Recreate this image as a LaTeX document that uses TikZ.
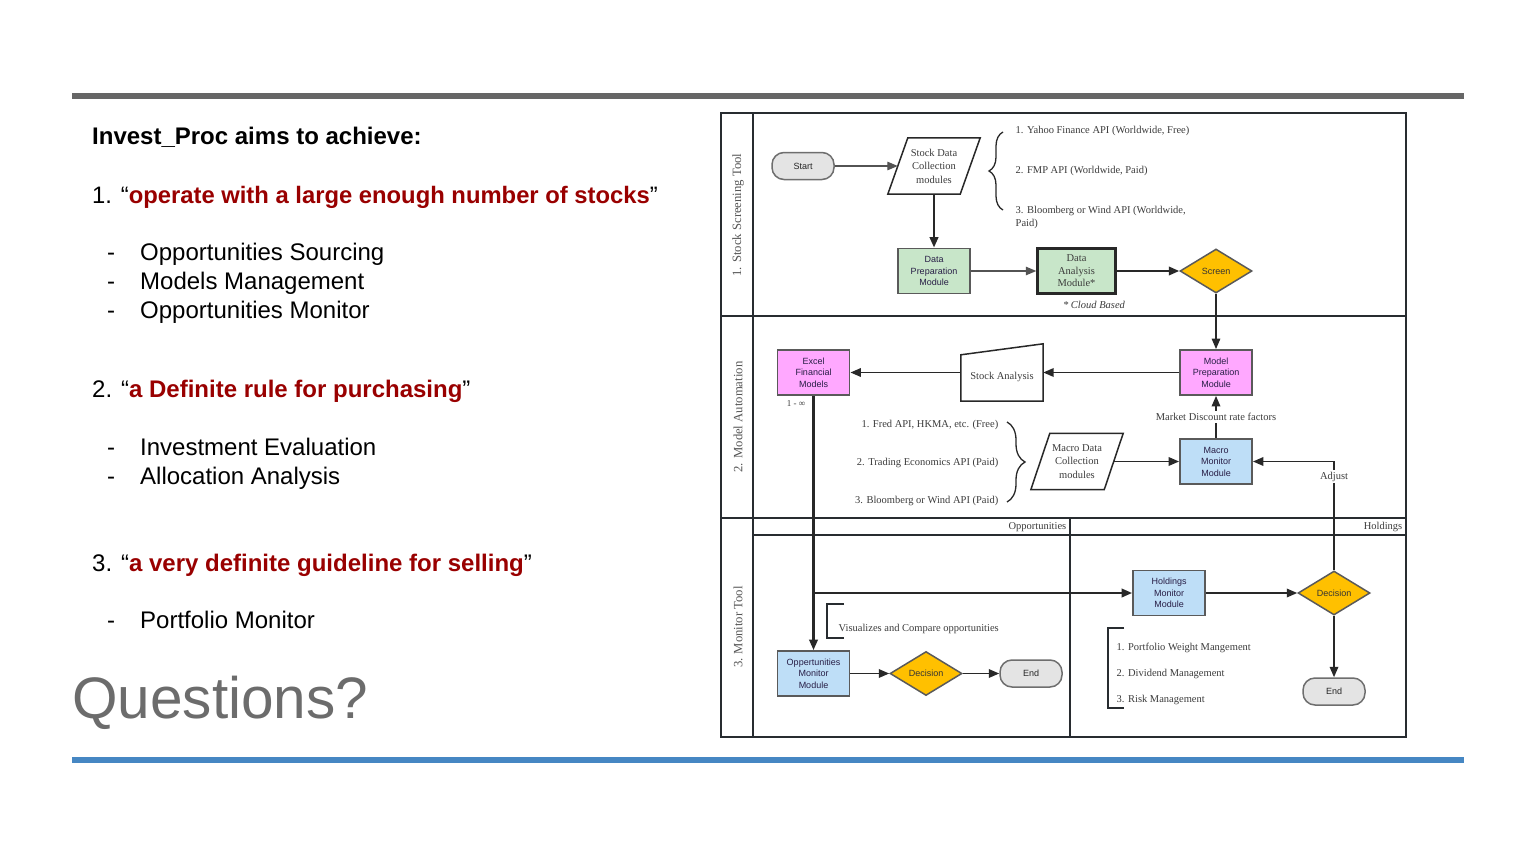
\documentclass[tikz,border=0pt]{standalone}
\usepackage{fontspec}
\setmainfont{Liberation Serif}
\setsansfont{Liberation Sans}
\usetikzlibrary{arrows.meta,shapes.geometric,decorations.pathreplacing,calc}

\definecolor{topbar}{RGB}{102,102,102}
\definecolor{botbar}{RGB}{70,135,195}
\definecolor{aimred}{RGB}{153,0,0}
\definecolor{qgray}{RGB}{108,108,108}
\definecolor{framec}{RGB}{40,44,48}
\definecolor{linec}{RGB}{40,40,40}
\definecolor{txtc}{RGB}{60,60,60}
\definecolor{boxline}{RGB}{90,90,90}
\definecolor{gfill}{RGB}{200,230,201}
\definecolor{pfill}{RGB}{255,168,255}
\definecolor{bfill}{RGB}{190,222,247}
\definecolor{afill}{RGB}{255,192,0}
\definecolor{pillfill}{RGB}{228,228,228}
\definecolor{pillline}{RGB}{110,110,110}
\definecolor{lanec}{RGB}{85,85,85}
\definecolor{boxtxt}{RGB}{40,30,70}

\newcommand\setfs[2]{\fontsize{#1}{#2}\selectfont}

\begin{document}
\begin{tikzpicture}[x=1pt,y=-1pt,
  >={Triangle[length=10.5pt,width=8.5pt]},
  body/.style={font=\sffamily\setfs{24}{28}, anchor=base west, inner sep=0pt},
  srf/.style={font=\setfs{10.5}{13}, text=txtc, inner sep=0.5pt},
  lane/.style={font=\setfs{12.7}{14}, text=lanec, rotate=90, inner sep=0pt},
  frame/.style={draw=framec, line width=2.2pt},
  conn/.style={draw=linec, line width=1.8pt},
  boxbase/.style={draw=boxline, line width=1.8pt, minimum width=72pt, minimum height=45pt,
    align=center, inner sep=1pt, font=\sffamily\setfs{9}{11.5}, text=boxtxt},
  gbox/.style={boxbase, fill=gfill},
  pbox/.style={boxbase, fill=pfill},
  bbox/.style={boxbase, fill=bfill},
  dia/.style={diamond, draw=boxline, line width=1.5pt, fill=afill, minimum width=72pt,
    minimum height=44pt, inner sep=0pt, font=\sffamily\setfs{9}{11}, text=black!80},
  pill/.style={draw=pillline, line width=1.5pt, fill=pillfill, rounded corners=12pt,
    minimum width=62pt, minimum height=27pt, inner sep=0pt, font=\sffamily\setfs{9}{11}, text=black!85},
  holder/.style={inner sep=0pt, align=center, font=\setfs{10.5}{13.5}, text=txtc},
  brc/.style={draw=linec, line width=1.3pt, decorate},
  bkt/.style={draw=framec, line width=2.2pt}
]
\useasboundingbox[fill=white] (0,0) rectangle (1536,864);

% slide rules
\draw[topbar, line width=6pt] (72,96) -- (1464,96);
\draw[botbar, line width=6pt] (72,759.5) -- (1464,759.5);

% left column text
\node[body, font=\sffamily\bfseries\setfs{24}{28}] (title) at (92,145) {Invest\_Proc aims to achieve:};
\node[body, font=\sffamily\setfs{23.8}{28}] (aim1) at (92,203) {1. “\textcolor{aimred}{\bfseries operate with a large enough number of stocks}”};
\node[body] (d11) at (107,260) {-};
\node[body] (b11) at (140,260) {Opportunities Sourcing};
\node[body] (d12) at (107,289) {-};
\node[body] (b12) at (140,289) {Models Management};
\node[body] (d13) at (107,318) {-};
\node[body] (b13) at (140,318) {Opportunities Monitor};
\node[body] (aim2) at (92,397) {2. “\textcolor{aimred}{\bfseries a Definite rule for purchasing}”};
\node[body] (d21) at (107,455) {-};
\node[body] (b21) at (140,455) {Investment Evaluation};
\node[body] (d22) at (107,484) {-};
\node[body] (b22) at (140,484) {Allocation Analysis};
\node[body] (aim3) at (92,571) {3. “\textcolor{aimred}{\bfseries a very definite guideline for selling}”};
\node[body] (d31) at (107,628) {-};
\node[body] (b31) at (140,628) {Portfolio Monitor};
\node[body, font=\sffamily\setfs{58.5}{64}, text=qgray] (quest) at (72,718) {Questions?};

% swimlane frame
\draw[frame] (721,113) rectangle (1406,737);
\draw[frame] (753,113) -- (753,737);
\draw[frame] (721,316) -- (1406,316);
\draw[frame] (721,518) -- (1406,518);
\draw[frame] (753,535) -- (1406,535);
\draw[frame] (1070,518) -- (1070,737);

\node[lane] (lane1) at (738,215) {1. Stock Screening Tool};
\node[lane] (lane2) at (738,417) {2. Model Automation};
\node[lane] (lane3) at (738,627) {3. Monitor Tool};
\node[srf, anchor=east] (opphead) at (1067,527) {Opportunities};
\node[srf, anchor=east] (holdhead) at (1403,527) {Holdings};

% lane 1: stock screening
\node[pill] (start) at (803,166) {Start};
\node[holder, minimum width=72pt, minimum height=56pt] (sdc) at (934,166) {Stock Data\\Collection\\modules};
\draw[draw=linec, line width=1.5pt] ($(sdc.north west)+(10,0)$) -- ($(sdc.north east)+(10,0)$)
  -- ($(sdc.south east)+(-10,0)$) -- ($(sdc.south west)+(-10,0)$) -- cycle;
\node[gbox] (dprep) at (934,271) {Data\\Preparation\\Module};
\node[gbox, draw=linec, line width=2.4pt, minimum width=78pt, font=\setfs{10.5}{12.5}, text=txtc] (dana) at (1076.5,271) {Data\\Analysis\\Module*};
\node[dia] (screen) at (1216,271) {Screen};
\node[srf, font=\itshape\setfs{10.5}{13}] (cloud) at (1094,305) {* Cloud Based};

\node[srf, anchor=west] (src1) at (1015,131) {1. Yahoo Finance API (Worldwide, Free)};
\node[srf, anchor=west] (src2) at (1015,171) {2. FMP API (Worldwide, Paid)};
\node[srf, anchor=north west, align=left] (src3) at (1015,206) {3. Bloomberg or Wind API (Worldwide,\\Paid)};
\draw[brc, decoration={brace, amplitude=14pt}] (1003,210) -- (1003,132);

% lane 2: model automation
\node[pbox] (mprep) at (1216,372.5) {Model\\Preparation\\Module};
\node[inner sep=0pt, minimum width=82pt, minimum height=57pt] (sa) at (1002,372.5) {};
\draw[draw=linec, line width=1.5pt] ($(sa.north west)+(0,11)$) -- (sa.north east) -- (sa.south east)
  -- (sa.south west) -- cycle;
\node[srf] (satext) at ($(sa.center)+(0,4)$) {Stock Analysis};
\node[pbox] (excel) at (813.5,372.5) {Excel\\Financial\\Models};
\node[srf, font=\setfs{9}{11}] (inf) at (796,404) {1 - ∞};

\node[srf, anchor=east] (mac1) at (999,425) {1. Fred API, HKMA, etc. (Free)};
\node[srf, anchor=east] (mac2) at (999,463) {2. Trading Economics API (Paid)};
\node[srf, anchor=east] (mac3) at (999,501) {3. Bloomberg or Wind API (Paid)};
\draw[brc, decoration={brace, amplitude=18pt}] (1007,422) -- (1007,502);

\node[holder, minimum width=73pt, minimum height=56pt] (mdc) at (1077,461.5) {Macro Data\\Collection\\modules};
\draw[draw=linec, line width=1.5pt] ($(mdc.north west)+(9.5,0)$) -- ($(mdc.north east)+(9.5,0)$)
  -- ($(mdc.south east)+(-9.5,0)$) -- ($(mdc.south west)+(-9.5,0)$) -- cycle;
\node[bbox] (mmon) at (1216,461.5) {Macro\\Monitor\\Module};

% lane 1 connectors
\draw[conn, line width=1.3pt, draw=linec!80, ->] (start) -- (sdc);
\draw[conn, line width=2.4pt, ->] (sdc) -- (dprep);
\draw[conn, line width=1.2pt, draw=linec!80, ->] (dprep) -- (dana);
\draw[conn, line width=2.2pt, ->] (dana) -- (screen);
\draw[conn, line width=1.4pt, ->] (screen) -- (mprep);

% lane 2 connectors
\draw[conn, ->] (mprep) -- (sa);
\draw[conn, ->] (sa) -- (excel);
\draw[conn, ->] (mdc) -- (mmon);
\draw[conn, ->] (mmon) -- node[srf, fill=white, inner sep=2pt] (mdr) {Market Discount rate factors} (mprep);

% lane 3: monitor tool
\node[bbox] (hmon) at (1169,593) {Holdings\\Monitor\\Module};
\node[dia] (hdec) at (1334,593) {Decision};
\node[pill] (hend) at (1334,691.5) {End};
\node[bbox] (omon) at (813.5,673.5) {Oppertunities\\Monitor\\Module};
\node[dia] (odec) at (926,673.5) {Decision};
\node[pill] (oend) at (1031,673.5) {End};

\draw[bkt] (844,604) -- (827,604) -- (827,638) -- (844,638);
\node[srf, anchor=west] (vis) at (838,629) {Visualizes and Compare opportunities};
\draw[bkt] (1124,628) -- (1108,628) -- (1108,708) -- (1124,708);
\node[srf, anchor=west] (pm1) at (1116,648) {1. Portfolio Weight Mangement};
\node[srf, anchor=west] (pm2) at (1116,674) {2. Dividend Management};
\node[srf, anchor=west] (pm3) at (1116,700) {3. Risk Management};

\draw[conn, line width=2.2pt, ->] (excel.south) -- (omon.north);
\draw[conn, line width=2.2pt, ->] (excel.south |- hmon.west) -- (hmon.west);
\draw[conn, ->] (hmon) -- (hdec);
\draw[conn, ->] (hdec) -- (hend);
\draw[conn, ->] (omon) -- (odec);
\draw[conn, ->] (odec) -- (oend);
\draw[conn, ->] (hdec.north) -- node[pos=0.86, srf, fill=white, inner sep=2pt] (adj) {Adjust}
  (hdec.north |- mmon.east) -- (mmon.east);
\end{tikzpicture}
\end{document}
